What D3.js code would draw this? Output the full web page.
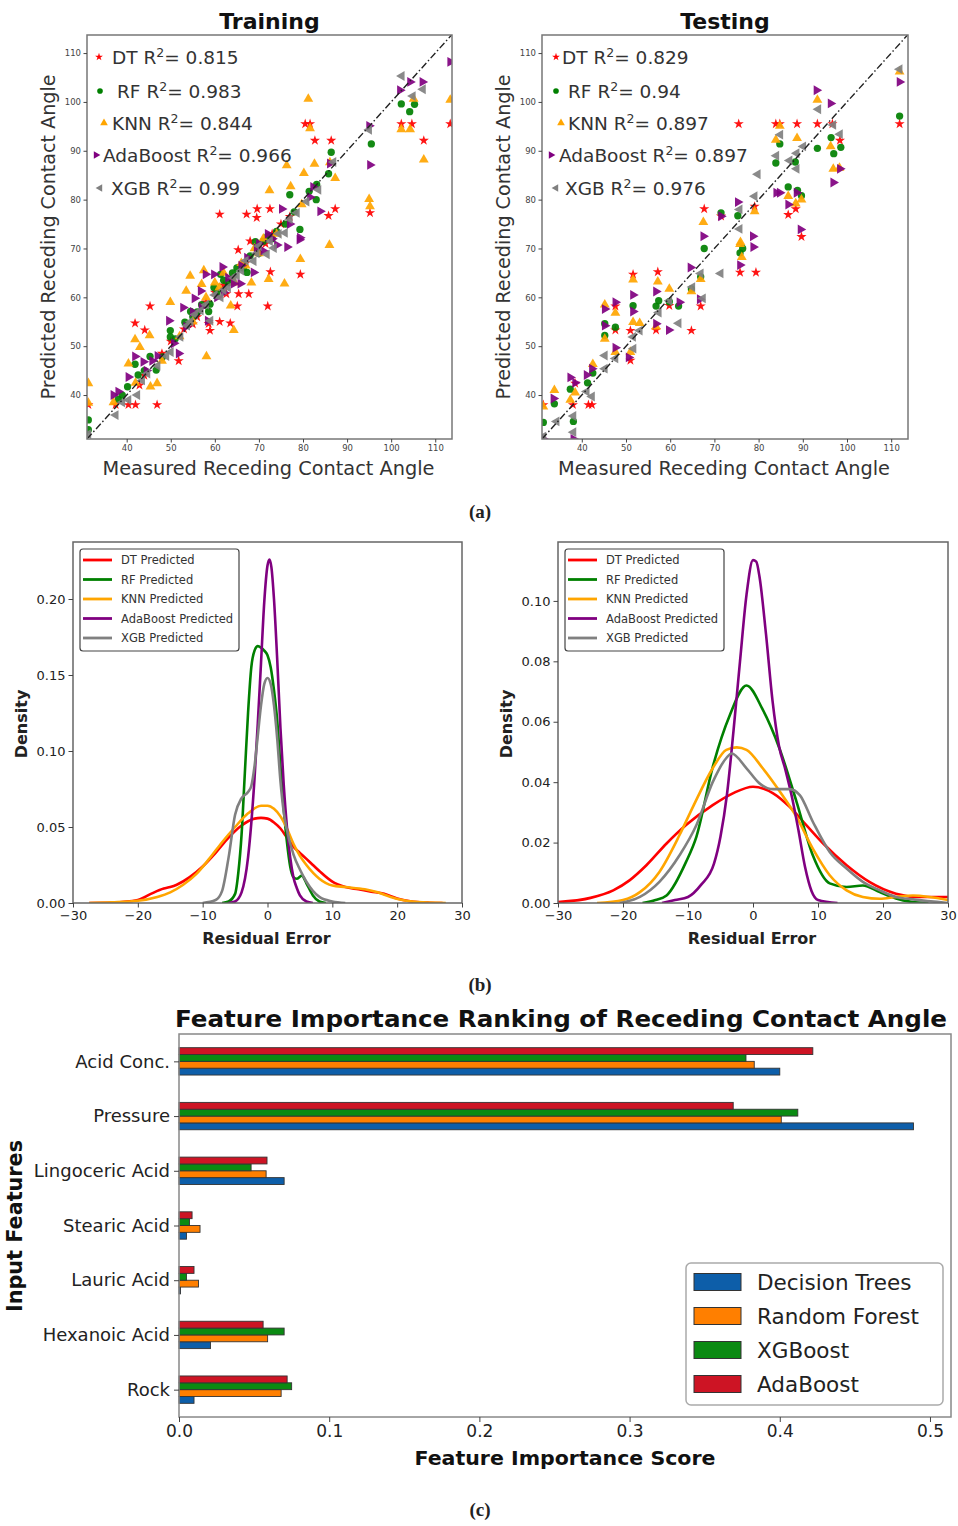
<!DOCTYPE html>
<html><head><meta charset="utf-8">
<script src="https://cdn.jsdelivr.net/npm/d3@7"></script>
<style>body{margin:0;background:#fff} svg{display:block}</style>
</head><body>
<svg id="c" width="958" height="1526"></svg>
<script>
// ---------------- DATA ----------------
const models = ['DT','RF','KNN','AdaBoost','XGB'];
const trainR2 = ['0.815','0.983','0.844','0.966','0.99'];
const testR2  = ['0.829','0.94','0.897','0.897','0.976'];
const scatterTicks = [40,50,60,70,80,90,100,110];

// [measured, predicted]
const trainDT = [[31.3,38.0],[40.4,38.0],[42.0,38.0],[46.9,38.0],[42.9,42.0],[41.9,54.7],[44.1,53.3],[45.3,58.2],[51.8,47.0],[58.9,53.2],[58.6,54.6],[61.1,55.0],[63.5,54.7],[65.1,58.2],[72.0,58.2],[62.6,60.7],[65.4,60.7],[67.7,60.7],[72.6,65.2],[79.4,64.7],[65.3,69.7],[61.1,77.0],[67.2,77.0],[69.5,76.3],[69.6,78.1],[72.5,78.1],[85.8,76.7],[87.3,78.1],[95.2,77.3],[80.5,95.5],[81.6,95.5],[82.7,92.1],[86.4,92.1],[102.3,95.5],[104.7,95.5],[107.4,92.1],[113.4,95.5],[37.5,38.0],[48,48.5],[53,53.5],[56,56],[60,61],[66,66.5],[70,70],[75,75],[68,71.5],[73,73],[44,44],[50,51],[55,54.5],[58,59],[62,62.5],[64,64],[67,67],[71.5,71],[77,76.5]];
const trainRF = [[31.3,34.9],[31.3,32.9],[38.1,39.1],[40.2,41.7],[41.9,46.3],[42.6,44.1],[45.3,47.9],[46.7,45.1],[48.1,47.8],[49.9,53.2],[49.9,51.9],[53.2,54.9],[54.5,57.1],[58.6,57.1],[58.9,58.6],[59.8,62.0],[61.3,64.7],[67.3,65.1],[69.2,71.4],[72,72.5],[74,73.5],[76,75],[77.0,81.0],[79.3,73.9],[81.4,81.7],[83.0,80.0],[83.1,83.1],[85.8,85.3],[86.4,89.7],[95.5,91.4],[102.3,99.6],[104.2,98.0],[105.3,99.5],[63,63],[65,66],[56,57],[70,69],[39,40],[44,45],[51,51.5],[55,56],[57,58.5],[60.5,61],[62,63.5],[64,65],[66.5,66],[68,68.5],[71,71.5],[73,72],[78,77.5]];
const trainKNN = [[31.3,42.4],[31.3,38.4],[37,38.5],[40.4,46.4],[41.9,51.4],[43.0,49.8],[45.2,52.2],[45.4,41.7],[46.9,42.4],[49.9,59.0],[53.5,61.3],[54.4,64.4],[57.0,62.7],[57.5,65.5],[58.1,47.9],[63.6,58.3],[64.3,53.3],[68.3,63.0],[72.2,63.7],[75.8,62.8],[79.4,67.8],[86.0,70.7],[72.4,81.9],[76.3,87.0],[77.2,82.7],[79.7,79.0],[80.2,85.4],[82.6,87.3],[81.2,100.6],[81.6,94.6],[86.1,87.6],[87.3,84.4],[95.0,80.1],[95.2,78.6],[102.3,94.4],[104.3,94.4],[105.1,100.6],[107.4,88.2],[113.4,100.4],[60,63],[62,65],[66,67],[70,69],[52,52],[48,47],[42,42.5],[55,55],[58,60],[61,62],[64.5,63],[67,66.5],[69,70],[71,72],[74,73]];
const trainAda = [[37.0,40.0],[38.1,40.7],[40.4,43.7],[41.9,47.9],[43.8,46.8],[45.8,47.0],[49.6,55.2],[50.7,50.6],[51.8,48.5],[52.8,57.9],[55.4,59.8],[56.8,61.3],[57.9,64.7],[58.4,55.2],[59.8,64.7],[61.7,66.2],[64.3,62.8],[65.8,62.8],[67.3,68.1],[68.8,65.1],[74.1,70.7],[76.4,70.3],[79.2,71.8],[75.2,78.1],[79.3,72.2],[81.6,80.5],[82.3,82.6],[83.9,77.6],[86.1,87.4],[95.0,95.1],[95.2,87.1],[102.0,102.4],[104.3,104.1],[107.1,104.1],[113.4,108.2],[70,71],[72,73],[62,61],[44.5,45],[47,48],[53.5,54],[55,57],[57,58],[60.5,60],[63,64],[66,66.5],[69.5,70],[71,69.5],[73,72],[77,75]];
const trainXGB = [[31.3,32],[37.5,35.9],[40.4,39.0],[42.4,40.0],[44.7,44.4],[47,46],[50.0,48.8],[52.2,51.9],[53.7,54.2],[56.8,57.3],[59.0,55.2],[61.3,60.0],[64.3,64.0],[66,65.5],[68.8,67.4],[71.8,68.8],[73.4,70.1],[75.9,73.2],[78.6,77.3],[80.8,79.6],[83.5,82.0],[86.9,87.7],[95.0,94.3],[102.4,105.3],[104.9,101.2],[107.2,102.6],[58,58.5],[63,62],[70,70.5],[39,38.5],[43.5,43],[49,48],[54.5,55],[55.5,56.5],[60,60.5],[62,61.5],[65,64.5],[67,67.5],[69.5,69],[72.5,71.5],[74.5,73],[77,76]];

const testDT = [[31.3,38.0],[38.0,38.0],[38.5,42.4],[41.5,38.0],[42.3,38.0],[47.6,58.2],[47.6,53.3],[51.0,47.1],[51.6,64.7],[51.0,53.2],[57.2,65.2],[56.8,53.3],[59.8,58.3],[66.9,58.2],[64.8,53.2],[75.8,65.1],[79.4,65.1],[67.7,78.1],[71.5,76.6],[79.1,78.6],[86.7,76.9],[88.4,78.1],[89.7,72.4],[75.5,95.5],[83.9,95.5],[84.8,95.5],[88.7,95.5],[93.3,95.5],[96.7,95.5],[98.4,92.1],[111.9,95.5]];
const testRF = [[31.3,34.4],[33.8,38.2],[37.4,41.2],[38.1,34.6],[41.3,42.5],[42.5,44.5],[45.2,52.2],[45.2,54.6],[47.6,53.9],[51.6,58.3],[56.8,58.2],[57.4,59.3],[59.8,59.1],[61.9,58.2],[64.8,61.7],[66.9,64.2],[67.7,70.0],[75.8,69.1],[76.4,70.0],[71.5,77.3],[75.3,76.7],[86.7,82.6],[88.8,81.9],[89.7,80.8],[83.9,87.5],[88.3,87.7],[84.8,91.4],[93.3,90.5],[96.4,92.7],[97.0,89.4],[98.6,90.7],[111.9,97.1]];
const testKNN = [[31.3,37.6],[33.8,41.0],[37.4,39.0],[38.5,40.5],[42.5,46.3],[45.2,58.5],[45.2,51.5],[47.6,56.8],[47.6,48.8],[51.0,48.8],[51.6,63.6],[51.6,54.9],[53.1,54.7],[57.2,63.2],[56.8,54.0],[59.8,61.7],[64.8,61.2],[66.9,63.7],[75.8,70.9],[76.2,68.2],[67.5,75.4],[75.9,71.3],[79.1,77.6],[86.7,80.7],[88.4,79.2],[89.7,80.0],[83.9,92.2],[84.8,95.1],[88.7,92.6],[93.3,100.4],[96.3,90.9],[96.9,86.3],[98.3,86.5],[111.9,106.2]];
const testAda = [[31.3,31.0],[33.6,39.3],[37.4,43.6],[38.5,42.5],[38.1,31.0],[41.1,44.1],[42.3,45.4],[45.2,57.6],[45.2,54.2],[47.6,59.0],[47.6,49.7],[50.6,47.7],[51.6,60.5],[51.6,57.1],[56.8,61.2],[56.8,54.6],[59.7,53.3],[62.1,59.0],[64.6,66.1],[66.7,59.6],[75.8,66.6],[78.8,70.3],[67.5,72.5],[71.5,76.6],[75.3,79.5],[78.7,72.5],[84.0,81.4],[84.8,81.4],[86.7,79.0],[88.6,81.4],[89.5,73.9],[93.1,102.4],[96.3,99.7],[96.9,83.5],[98.4,86.3],[111.9,104.1]];
const testXGB = [[31.3,31.5],[34.3,34.6],[38.1,35.7],[38.1,32.4],[41.1,40.7],[42.3,39.7],[45.2,48.1],[45.2,45.4],[47.6,47.5],[51.7,49.5],[51.6,51.9],[53.1,53.2],[57.4,56.9],[59.8,59.3],[61.9,54.7],[65.0,62.1],[67.4,59.8],[71.4,64.9],[66.9,64.9],[75.7,74.0],[75.7,78.0],[79.1,80.7],[79.8,85.2],[84.0,89.0],[84.9,93.3],[87.0,88.0],[88.6,86.3],[88.6,89.5],[90.1,90.9],[93.5,98.5],[96.9,95.3],[98.4,93.4],[111.9,106.7]];

// density curves [residual, density]
const densLabels = ['DT Predicted','RF Predicted','KNN Predicted','AdaBoost Predicted','XGB Predicted'];
const trDensDT = [[-27.5,0],[-24,0.0003],[-20,0.002],[-18,0.006],[-16,0.0095],[-15,0.0105],[-14,0.012],[-12,0.017],[-10,0.024],[-8,0.033],[-6,0.043],[-4,0.051],[-2,0.0555],[-1,0.056],[0,0.0555],[1,0.053],[2,0.049],[3,0.043],[4,0.037],[5,0.033],[6,0.029],[7,0.025],[8,0.021],[10,0.014],[12,0.0105],[14,0.009],[16,0.0075],[18,0.006],[20,0.003],[22,0.0012],[25,0.0002],[27,0]];
const trDensRF = [[-7,0],[-6,0.001],[-5,0.006],[-4.5,0.02],[-4,0.045],[-3.5,0.085],[-3,0.125],[-2.5,0.155],[-2,0.166],[-1.5,0.169],[-1,0.168],[-0.5,0.166],[0,0.163],[0.5,0.155],[1,0.14],[1.5,0.12],[2,0.09],[2.5,0.062],[3,0.04],[3.5,0.024],[4,0.017],[4.5,0.016],[5.3,0.018],[6,0.013],[7,0.005],[8,0.001],[9,0]];
const trDensKNN = [[-27.5,0],[-24,0.0005],[-20,0.0015],[-17,0.004],[-15,0.007],[-13,0.012],[-11,0.019],[-9,0.029],[-7,0.04],[-5,0.05],[-3,0.059],[-1,0.064],[0,0.064],[1,0.062],[2,0.057],[3,0.049],[4,0.039],[5,0.031],[6,0.025],[8,0.016],[10,0.0115],[12,0.0105],[15,0.009],[17,0.007],[19,0.004],[21,0.0018],[24,0.0004],[27.5,0]];
const trDensAda = [[-6,0],[-5,0.001],[-4,0.007],[-3,0.03],[-2,0.082],[-1.5,0.118],[-1,0.158],[-0.5,0.198],[0,0.222],[0.3,0.226],[0.6,0.221],[1,0.2],[1.5,0.16],[2,0.115],[2.5,0.078],[3,0.05],[3.5,0.03],[4,0.017],[4.5,0.01],[5,0.005],[6,0.001],[7,0]];
const trDensXGB = [[-10,0],[-8,0.002],[-7,0.008],[-6,0.03],[-5,0.058],[-4,0.069],[-3,0.073],[-2.5,0.077],[-2,0.09],[-1.5,0.11],[-1,0.13],[-0.5,0.144],[0,0.148],[0.5,0.144],[1,0.13],[1.5,0.108],[2,0.08],[2.5,0.06],[3,0.048],[4,0.032],[5,0.022],[6,0.014],[7,0.008],[8,0.004],[10,0.001],[12,0]];

const teDensDT = [[-30,0.0003],[-25,0.0017],[-21.5,0.0042],[-19,0.0075],[-16.4,0.0125],[-13.3,0.0197],[-10.3,0.0258],[-6.2,0.0324],[-3.1,0.0363],[0,0.0385],[3.1,0.0363],[5.6,0.0319],[8.2,0.0258],[10.8,0.0197],[14.4,0.0125],[17.9,0.007],[22,0.0031],[25.6,0.002],[30,0.002]];
const teDensRF = [[-17,0],[-15,0.001],[-13.3,0.0025],[-10.3,0.0136],[-8.7,0.022],[-6.2,0.045],[-3.6,0.062],[-1,0.072],[1.5,0.064],[4.1,0.051],[6.7,0.0335],[9.2,0.0158],[11.8,0.0065],[14.4,0.0053],[16.9,0.0058],[19.5,0.0036],[22,0.0015],[24.6,0.0003],[27,0]];
const teDensKNN = [[-24,0],[-20,0.001],[-17.4,0.0036],[-14.4,0.0103],[-11.3,0.0225],[-9.2,0.032],[-6.2,0.0446],[-4.1,0.0507],[-2.5,0.0515],[-1,0.0507],[1.5,0.0446],[4.1,0.037],[6.7,0.0285],[9.2,0.018],[11.8,0.0092],[14.4,0.0042],[16.9,0.002],[19.5,0.0014],[22,0.002],[24.6,0.0025],[30,0.001]];
const teDensAda = [[-14,0],[-12,0.001],[-10,0.002],[-8,0.006],[-6,0.013],[-5,0.022],[-4,0.036],[-3,0.057],[-2,0.08],[-1,0.102],[0,0.1135],[0.5,0.113],[1,0.108],[2,0.089],[3,0.067],[4,0.052],[5,0.044],[6,0.035],[7,0.024],[8,0.012],[9,0.004],[10,0.001],[13,0]];
const teDensXGB = [[-20.5,0],[-17.4,0.002],[-14.4,0.007],[-11.3,0.0158],[-8.7,0.0258],[-6.2,0.04],[-4.1,0.048],[-3.3,0.0495],[-1,0.0446],[1,0.0396],[3.1,0.0377],[5.6,0.0377],[7.2,0.0357],[9.2,0.0269],[11.8,0.0169],[14.4,0.0114],[16.9,0.007],[19.5,0.0042],[22,0.002],[24.6,0.0012],[30,0]];

// feature importance
const features = ['Acid Conc.','Pressure','Lingoceric Acid','Stearic Acid','Lauric Acid','Hexanoic Acid','Rock'];
const impNames = ['Decision Trees','Random Forest','XGBoost','AdaBoost'];
const impDT  = [0.400,0.489,0.070,0.005,0.001,0.021,0.010];
const impRF  = [0.383,0.401,0.058,0.014,0.013,0.059,0.068];
const impXGB = [0.3775,0.412,0.048,0.007,0.005,0.070,0.075];
const impAda = [0.422,0.369,0.0586,0.0087,0.010,0.056,0.072];
const impTicks = [0,0.1,0.2,0.3,0.4,0.5];

// ---------------- DRAW ----------------
const F = 'DejaVu Sans, sans-serif';
const svg = d3.select('#c');
svg.append('rect').attr('width',958).attr('height',1526).attr('fill','#fff');
const defs = svg.append('defs');
let clipN = 0;
function clip(L){
  const id='cl'+(clipN++);
  defs.append('clipPath').attr('id',id).append('rect')
    .attr('x',L.left).attr('y',L.top).attr('width',L.right-L.left).attr('height',L.bottom-L.top);
  return 'url(#'+id+')';
}
function styleAxis(ax, size, color){
  ax.attr('font-size',size).attr('font-family',F);
  ax.select('.domain').remove();
  ax.selectAll('.tick line').attr('stroke','#444');
  ax.selectAll('.tick text').attr('fill',color);
}

const mStyle = [
  {color:'red',   sym:d3.symbolStar,     size:32, rot:0},
  {color:'green', sym:d3.symbolCircle,   size:42, rot:0},
  {color:'orange',sym:d3.symbolTriangle, size:42, rot:0},
  {color:'purple',sym:d3.symbolTriangle, size:42, rot:90},
  {color:'gray',  sym:d3.symbolTriangle, size:42, rot:-90},
];

function scatter(L, sets, r2, title, leg){
  const g = svg.append('g');
  const x = d3.scaleLinear().domain([31,113.8]).range([L.left,L.right]);
  const y = d3.scaleLinear().domain([31,113.7]).range([L.bottom,L.top]);
  const cp = clip(L);
  const pg = g.append('g').attr('clip-path',cp);
  sets.forEach((pts,k)=>{
    const s = mStyle[k];
    pg.selectAll(null).data(pts).join('path')
      .attr('d', d3.symbol(s.sym, s.size)())
      .attr('transform', d=>`translate(${x(d[0])},${y(d[1])}) rotate(${s.rot})`)
      .attr('fill', s.color).attr('opacity',0.92);
  });
  pg.append('line').attr('x1',x(31)).attr('y1',y(31)).attr('x2',x(113.8)).attr('y2',y(113.8))
    .attr('stroke','#222').attr('stroke-width',1.4).attr('stroke-dasharray','7,2.5,1.5,2.5');
  g.append('rect').attr('x',L.left).attr('y',L.top).attr('width',L.right-L.left).attr('height',L.bottom-L.top)
    .attr('fill','none').attr('stroke','#777').attr('stroke-width',1.5);
  const ax = g.append('g').attr('transform',`translate(0,${L.bottom})`)
    .call(d3.axisBottom(x).tickValues(scatterTicks).tickSize(3.5).tickPadding(2.5));
  styleAxis(ax, 8.5, '#444');
  const ay = g.append('g').attr('transform',`translate(${L.left},0)`)
    .call(d3.axisLeft(y).tickValues(scatterTicks).tickSize(3.5).tickPadding(2.5));
  styleAxis(ay, 8.5, '#444');
  // labels
  g.append('text').attr('x',(L.left+L.right)/2).attr('y',29).attr('text-anchor','middle')
    .attr('font-family',F).attr('font-weight','bold').attr('font-size',22).attr('fill','#111').text(title);
  g.append('text').attr('x',(L.left+L.right)/2-1).attr('y',475).attr('text-anchor','middle')
    .attr('font-family',F).attr('font-size',20).attr('fill','#333')
    .attr('textLength',332).attr('lengthAdjust','spacingAndGlyphs').text('Measured Receding Contact Angle');
  g.append('text').attr('transform',`translate(${L.left-32},237) rotate(-90)`).attr('text-anchor','middle')
    .attr('font-family',F).attr('font-size',20).attr('fill','#333')
    .attr('textLength',325).attr('lengthAdjust','spacingAndGlyphs').text('Predicted Receding Contact Angle');
  // legend
  const rows=[57,91,123,155,188];
  models.forEach((m,i)=>{
    const s = mStyle[i];
    g.append('path').attr('d', d3.symbol(s.sym, s.size*0.6)())
      .attr('transform',`translate(${leg.mx[i]},${rows[i]}) rotate(${s.rot})`).attr('fill',s.color);
    const t = g.append('text').attr('x',leg.tx[i]).attr('y',rows[i]+7)
      .attr('font-family',F).attr('font-size',18.5).attr('fill','#333');
    t.append('tspan').text(m+' R');
    t.append('tspan').attr('dy',-7).attr('font-size',12.5).text('2');
    t.append('tspan').attr('dy',7).text('= '+r2[i]);
  });
}

scatter({left:87,right:452,top:35,bottom:439},[trainDT,trainRF,trainKNN,trainAda,trainXGB],trainR2,'Training',
  {mx:[99,100,104,96,100], tx:[112,117,112,103,111]});
scatter({left:542,right:908,top:35,bottom:439},[testDT,testRF,testKNN,testAda,testXGB],testR2,'Testing',
  {mx:[556,556,561,551,556], tx:[562,568,568,559,565]});

const densColors = ['red','green','orange','purple','gray'];
function density(L, yMax, yTicks, series){
  const g = svg.append('g');
  const x = d3.scaleLinear().domain([-30,30]).range([L.left,L.right]);
  const y = d3.scaleLinear().domain([0,yMax]).range([L.bottom,L.top]);
  const cp = clip(L);
  const line = d3.line().x(d=>x(d[0])).y(d=>y(d[1])).curve(d3.curveMonotoneX);
  series.forEach((s,i)=>{
    g.append('path').attr('d',line(s)).attr('fill','none').attr('stroke',densColors[i])
      .attr('stroke-width',2.6).attr('stroke-linejoin','round').attr('clip-path',cp);
  });
  g.append('rect').attr('x',L.left).attr('y',L.top).attr('width',L.right-L.left).attr('height',L.bottom-L.top)
    .attr('fill','none').attr('stroke','#666').attr('stroke-width',1.5);
  const ax = g.append('g').attr('transform',`translate(0,${L.bottom})`)
    .call(d3.axisBottom(x).tickValues([-30,-20,-10,0,10,20,30]).tickSize(4.5).tickPadding(3));
  styleAxis(ax, 13, '#222');
  const ay = g.append('g').attr('transform',`translate(${L.left},0)`)
    .call(d3.axisLeft(y).tickValues(yTicks).tickFormat(d3.format('.2f')).tickSize(4.5).tickPadding(3));
  styleAxis(ay, 13, '#222');
  g.append('text').attr('x',(L.left+L.right)/2-1).attr('y',944).attr('text-anchor','middle')
    .attr('font-family',F).attr('font-weight','bold').attr('font-size',16).attr('fill','#222').text('Residual Error');
  g.append('text').attr('transform',`translate(${L.left-46},724) rotate(-90)`).attr('text-anchor','middle')
    .attr('font-family',F).attr('font-weight','bold').attr('font-size',16).attr('fill','#222').text('Density');
  // legend
  const lx = L.left+7, ly = L.top+7;
  g.append('rect').attr('x',lx).attr('y',ly).attr('width',159).attr('height',102).attr('rx',3)
    .attr('fill','#fff').attr('stroke','#444').attr('stroke-width',1.2);
  densLabels.forEach((lab,i)=>{
    const yy = ly+11+i*19.5;
    g.append('line').attr('x1',lx+3).attr('x2',lx+32).attr('y1',yy).attr('y2',yy)
      .attr('stroke',densColors[i]).attr('stroke-width',2.8);
    g.append('text').attr('x',lx+41).attr('y',yy+4.2).attr('font-family',F).attr('font-size',11.5)
      .attr('fill','#333').text(lab);
  });
}
density({left:73,right:462,top:542,bottom:903},0.2375,[0,0.05,0.10,0.15,0.20],
  [trDensDT,trDensRF,trDensKNN,trDensAda,trDensXGB]);
density({left:558,right:948,top:542,bottom:903},0.1195,[0,0.02,0.04,0.06,0.08,0.10],
  [teDensDT,teDensRF,teDensKNN,teDensAda,teDensXGB]);

// panel labels
[['(a)',518],['(b)',991],['(c)',1516]].forEach(([t,yy])=>{
  svg.append('text').attr('x',480).attr('y',yy).attr('text-anchor','middle')
    .attr('font-family','Liberation Serif, serif').attr('font-weight','bold').attr('font-size',19)
    .attr('fill','#222').text(t);
});

// bar chart
(function(){
  const L = {left:179,right:951,top:1034,bottom:1417};
  const g = svg.append('g');
  const x = d3.scaleLinear().domain([0,0.514]).range([L.left,L.right]);
  const y = d3.scalePoint().domain(features).range([L.top,L.bottom]).padding(0.5);
  const bh = y.step()*0.125;
  const series = [impDT, impRF, impXGB, impAda];
  const cols = ['#0d5ea9','#ff7f00','#0a8a12','#cd1424'];
  const offs = [1.5,0.5,-0.5,-1.5];
  series.forEach((arr,k)=>{
    g.selectAll(null).data(arr).join('rect')
      .attr('x',x(0)).attr('y',(d,i)=>y(features[i])+offs[k]*bh-bh/2)
      .attr('width',d=>x(d)-x(0)).attr('height',bh)
      .attr('fill',cols[k]).attr('stroke','#333').attr('stroke-width',0.9);
  });
  g.append('rect').attr('x',L.left).attr('y',L.top).attr('width',L.right-L.left).attr('height',L.bottom-L.top)
    .attr('fill','none').attr('stroke','#888').attr('stroke-width',1.5);
  const ax = g.append('g').attr('transform',`translate(0,${L.bottom})`)
    .call(d3.axisBottom(x).tickValues(impTicks).tickFormat(d3.format('.1f')).tickSize(5).tickPadding(3));
  styleAxis(ax, 17, '#222');
  const ay = g.append('g').attr('transform',`translate(${L.left},0)`)
    .call(d3.axisLeft(y).tickSize(5).tickPadding(4));
  styleAxis(ay, 18, '#222');
  g.append('text').attr('x',561).attr('y',1027).attr('text-anchor','middle')
    .attr('font-family',F).attr('font-weight','bold').attr('font-size',23).attr('fill','#111')
    .attr('textLength',772).attr('lengthAdjust','spacingAndGlyphs')
    .text('Feature Importance Ranking of Receding Contact Angle');
  g.append('text').attr('x',565).attr('y',1465).attr('text-anchor','middle')
    .attr('font-family',F).attr('font-weight','bold').attr('font-size',20).attr('fill','#111')
    .attr('textLength',301).attr('lengthAdjust','spacingAndGlyphs').text('Feature Importance Score');
  g.append('text').attr('transform','translate(22,1226) rotate(-90)').attr('text-anchor','middle')
    .attr('font-family',F).attr('font-weight','bold').attr('font-size',21).attr('fill','#111')
    .attr('textLength',172).attr('lengthAdjust','spacingAndGlyphs').text('Input Features');
  // legend
  g.append('rect').attr('x',686).attr('y',1263).attr('width',257).attr('height',142).attr('rx',5)
    .attr('fill','#fff').attr('stroke','#aaa').attr('stroke-width',1.5);
  impNames.forEach((n,k)=>{
    const yy = 1282+k*34;
    g.append('rect').attr('x',694).attr('y',yy-8.5).attr('width',47).attr('height',17)
      .attr('fill',cols[k]).attr('stroke','#333').attr('stroke-width',1);
    g.append('text').attr('x',757).attr('y',yy+8).attr('font-family',F).attr('font-size',21.5)
      .attr('fill','#222').text(n);
  });
})();
</script>
</body></html>
